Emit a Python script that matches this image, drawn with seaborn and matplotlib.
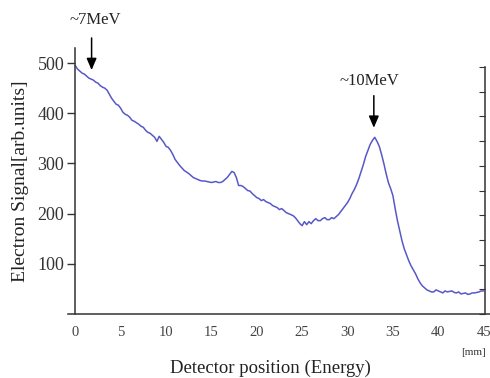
import numpy as np
import pandas as pd
import matplotlib
matplotlib.use("Agg")
import matplotlib.pyplot as plt
import seaborn as sns

# ---- data ----
position_mm = np.arange(0, 45.01, 0.25)
signal = [495, 488, 484, 480, 478, 474, 470, 468,
          466, 462, 460, 455, 452, 450, 446, 438,
          430, 424, 418, 416, 410, 402, 398, 396,
          392, 386, 384, 381, 378, 374, 372, 366,
          362, 360, 356, 352, 344, 354, 348, 342,
          334, 332, 326, 318, 308, 302, 296, 291,
          286, 283, 280, 276, 272, 270, 268, 266,
          265, 265, 264, 263, 262, 263, 264, 262,
          262, 264, 268, 272, 278, 284, 282, 272,
          256, 256, 254, 250, 246, 245, 240, 236,
          232, 230, 226, 228, 224, 222, 220, 216,
          214, 212, 208, 210, 206, 202, 200, 198,
          196, 192, 186, 180, 176, 184, 178, 184,
          180, 186, 190, 186, 186, 190, 192, 188,
          188, 192, 190, 194, 198, 204, 210, 216,
          222, 230, 240, 248, 258, 270, 284, 298,
          314, 326, 338, 346, 352, 344, 334, 318,
          300, 280, 262, 250, 236, 210, 186, 166,
          146, 130, 118, 106, 96, 88, 80, 70,
          62, 56, 52, 48, 46, 44, 44, 48,
          46, 44, 42, 46, 44, 45, 46, 43,
          42, 44, 40, 41, 42, 39, 40, 42,
          42, 43, 44, 46, 46]
x_ticks = [0, 5, 10, 15, 20, 25, 30, 35, 40, 45]
y_ticks = [100, 200, 300, 400, 500]
peak_labels = ["~7MeV", "~10MeV"]
peak_pos = [1.8, 32.9]
peak_tip = [486, 371]

df = pd.DataFrame({"pos": position_mm, "sig": signal})

sns.set_style("white")
plt.rcParams["font.family"] = ["Liberation Serif", "DejaVu Serif"]
plt.rcParams["text.color"] = "#222222"

fig = plt.figure(figsize=(4.9, 3.78), dpi=100)
ax = fig.add_axes([68 / 490, 1 - 314 / 378, 422 / 490, 266 / 378])

sns.lineplot(data=df, x="pos", y="sig", ax=ax, color="#5858c8", linewidth=1.1)

ax.set_xlim(-0.8, 45.7)
ax.set_ylim(0, 530)
for s in ["top", "right"]:
    ax.spines[s].set_visible(False)
ax.spines["left"].set_position(("data", 0))
for s in ["left", "bottom"]:
    ax.spines[s].set_color("#333333")
    ax.spines[s].set_linewidth(1.1)

ax.set_xticks(x_ticks)
ax.set_xticklabels([str(v) for v in x_ticks], fontsize=10.5, color="#444444")
ax.set_yticks(y_ticks)
ax.set_yticklabels([str(v) for v in y_ticks], fontsize=13, color="#333333")
ax.tick_params(axis="x", direction="inout", length=9, width=1, color="#333333", pad=4)
ax.tick_params(axis="y", direction="out", length=6, width=1, color="#333333", pad=2)

ax.set_xlabel("Detector position (Energy)", fontsize=13.5, color="#222222")
ax.xaxis.set_label_coords((270 - 68) / 422, -0.17)
ax.set_ylabel("Electron Signal[arb.units]", fontsize=14, labelpad=6, color="#222222")
ax.text(43.9, -0.143, "[mm]", transform=ax.get_xaxis_transform(), fontsize=8,
        ha="center", va="center", color="#333333")

# right-hand frame axis with unlabeled ticks
ax2 = ax.twinx()
ax2.set_ylim(0, 10.77)
ax2.set_yticks(range(0, 11))
ax2.set_yticklabels([])
for s in ["top", "left", "bottom"]:
    ax2.spines[s].set_visible(False)
ax2.spines["right"].set_position(("data", 45.2))
ax2.spines["right"].set_bounds(0, 10)
ax2.spines["right"].set_color("#333333")
ax2.spines["right"].set_linewidth(1.1)
ax2.tick_params(axis="y", direction="in", length=4, width=0.8, color="#333333")

# peak annotations
for lab, xp, tip in zip(peak_labels, peak_pos, peak_tip):
    tail = tip + 64
    ax.annotate("", xy=(xp, tip), xytext=(xp, tail), annotation_clip=False,
                arrowprops=dict(arrowstyle="-|>,head_length=0.7,head_width=0.3",
                                color="black", lw=1.1, shrinkA=0, shrinkB=0))
    off = 0.4 if lab == "~7MeV" else -0.5
    gap = 20 if lab == "~7MeV" else 14
    ax.text(xp + off, tail + gap, lab, fontsize=12,
            ha="center", va="bottom", color="#222222", clip_on=False)

fig.savefig("out.png", dpi=100)
